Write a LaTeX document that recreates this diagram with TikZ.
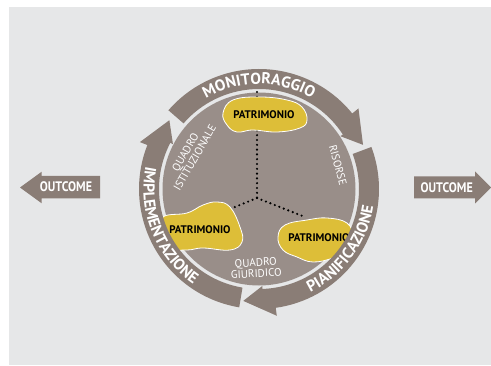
\documentclass[tikz,border=0pt]{standalone}
\usepackage{fontspec}
\setmainfont{PT Sans}
\usetikzlibrary{decorations.text}
\definecolor{ringcol}{HTML}{8A7D76}
\definecolor{disccol}{HTML}{998E89}
\definecolor{bgcol}{HTML}{E6E7E8}
\definecolor{blobcol}{HTML}{DDBE38}
\newcommand{\ringfont}{\fontsize{15.8}{15.8}\selectfont\bfseries}
% tail angle #1, tip angle #2, clockwise (#1 > #2)
\newcommand{\ringarrow}[2]{%
  \fill[ringcol] (#1:120pt) arc[start angle=#1, end angle={#2+16}, radius=120pt]
    -- ({#2+16}:128pt) -- (#2:113pt) -- ({#2+10}:97pt) -- ({#2+10}:100pt)
    arc[start angle={#2+10}, end angle=#1, radius=100pt] -- cycle;}
\tikzset{
  outarrow/.style={fill=ringcol},
  outtext/.style={text=white, font=\fontsize{12}{12}\selectfont\bfseries, inner sep=0pt},
  blob/.style={fill=blobcol, draw=white, line width=0.8pt},
  pat/.style={text=black, font=\fontsize{11}{11}\selectfont\bfseries, inner sep=0pt},
  inlabel/.style={text=white, font=\fontsize{11}{11}\selectfont, align=center, inner sep=0pt},
  dotline/.style={line width=2.4pt, line cap=round, dash pattern=on 0pt off 4.8pt},
}
\begin{document}
\begin{tikzpicture}[x=1pt,y=1pt]
\useasboundingbox (0,0) rectangle (491,365);
\fill[bgcol] (9,0) rectangle (491,358);

% outcome arrows
\fill[outarrow] (100,189) -- (41.7,189) -- (41.7,193.3) -- (20,177.5) -- (41.7,161.7) -- (41.7,166.7) -- (100,166.7) -- cycle;
\node[outtext] (outL) at (66,178) {\scalebox{1}[1.15]{OUTCOME}};
\fill[outarrow] (414,166.5) -- (475,166.5) -- (475,161.5) -- (491,177.5) -- (475,193.5) -- (475,188.5) -- (414,188.5) -- cycle;
\node[outtext] (outR) at (446.7,177.5) {\scalebox{1}[1.15]{OUTCOME}};

% disc
\begin{scope}[shift={(259,176)}]
  \fill[disccol] (0,0) circle[radius=96.5pt];
\end{scope}

% dotted connectors
\coordinate (J) at (257,167);
\coordinate (dT) at (257,273);
\coordinate (dL) at (230,156);
\coordinate (dR) at (305,148);
\draw[dotline] (dT) -- (J);
\draw[dotline] (J) -- (dL);
\draw[dotline] (J) -- (dR);

% blobs
\draw[blob] plot[smooth cycle, tension=0.7] coordinates {(233,265) (260,268) (287,265) (302,258) (307,245) (300,237) (277,233) (253,235) (237,233) (227,240) (223,252)};
\draw[blob] plot[smooth cycle, tension=0.7] coordinates {(163,148) (187,152) (203,160) (217,163) (230,158) (240,138) (242,123) (230,115) (203,117) (187,115) (167,117) (163,132)};
\draw[blob] plot[smooth cycle, tension=0.7] coordinates {(278,128) (285,140) (307,145) (327,147) (347,142) (353,128) (350,115) (333,107) (313,103) (297,108) (283,115)};
\node[pat] (p1) at (264,250) {PATRIMONIO};
\node[pat] (p2) at (200,135) {PATRIMONIO};
\node[pat] (p3) at (319,127) {PATRIMONIO};

% inner labels
\node[inlabel, rotate=60] (qi) at (190,210) {QUADRO\\ISTITUZIONALE};
\node[inlabel, rotate=-75] (ris) at (338,200) {RISORSE};
\node[inlabel, rotate=3] (qg) at (256,97) {QUADRO\\GIURIDICO};

% ring arrows and texts
\begin{scope}[shift={(259,176)}]
  \ringarrow{139}{23}
  \ringarrow{20.5}{-98}
  \ringarrow{260.5}{142.5}
  \path[decorate, decoration={text along path, text align=center, text color=white, text={|\ringfont|MONITORAGGIO}}]
    (140:105pt) arc[start angle=140, end angle=40, radius=105pt];
  \path[decorate, decoration={text along path, text align=center, text color=white, text={|\ringfont|IMPLEMENTAZIONE}}]
    (155:115.5pt) arc[start angle=155, end angle=249, radius=115.5pt];
  \path[decorate, decoration={text along path, text align=center, text color=white, text={|\ringfont|PIANIFICAZIONE}}]
    (-81:115.5pt) arc[start angle=-81, end angle=9, radius=115.5pt];
\end{scope}
\end{tikzpicture}
\end{document}
